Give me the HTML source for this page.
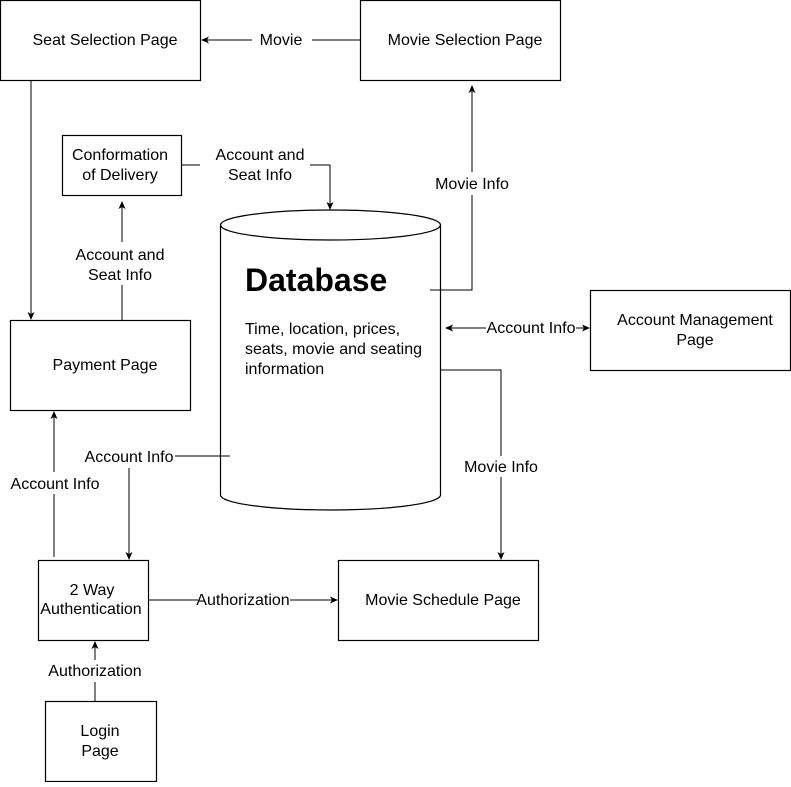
<!DOCTYPE html>
<html><head><meta charset="utf-8"><style>
body{margin:0;background:#fff}
svg text{font-family:"Liberation Sans",Arial,sans-serif;font-size:16px;fill:#000}
</style></head><body>
<svg width="791" height="782" viewBox="0 0 791 782" xmlns="http://www.w3.org/2000/svg">
<defs><marker id="a" markerWidth="8" markerHeight="8" refX="7" refY="4" orient="auto" markerUnits="userSpaceOnUse"><path d="M0,0.5 L8,4 L0,7.5 L2,4 Z" fill="#000"/></marker></defs>
<g fill="#fff" stroke="#000" stroke-width="1.2">
<rect x="0.5" y="0.5" width="200" height="80"/>
<rect x="360.5" y="0.5" width="200" height="80"/>
<rect x="62.5" y="135.5" width="119" height="60"/>
<rect x="10.5" y="320.5" width="180" height="90"/>
<rect x="590.5" y="290.5" width="200" height="80"/>
<rect x="38.5" y="560.5" width="110" height="80"/>
<rect x="338.5" y="560.5" width="200" height="80"/>
<rect x="45.5" y="701.5" width="111" height="80"/>
<path d="M220.5,225 A110,15 0 0 1 440.5,225 L440.5,495 A110,15 0 0 1 220.5,495 Z"/>
<path d="M220.5,225 A110,15 0 0 0 440.5,225" fill="none"/>
</g>
<g stroke="#000" stroke-width="1" fill="none">
<path d="M360,40 H312"/><path d="M252,40 H202" marker-end="url(#a)"/>
<path d="M31,81 V319" marker-end="url(#a)"/>
<path d="M182,165 H200"/><path d="M310,165 H330 V209" marker-end="url(#a)"/>
<path d="M430,290 H472 V195"/><path d="M472,172 V86" marker-end="url(#a)"/>
<path d="M122,320 V285"/><path d="M122,242 V202" marker-end="url(#a)"/>
<path d="M486,328 H446" marker-end="url(#a)"/><path d="M576,328 H589" marker-end="url(#a)"/>
<path d="M440,370 H501 V456"/><path d="M501,477 V559" marker-end="url(#a)"/>
<path d="M230,456 H175"/><path d="M129,468 V559" marker-end="url(#a)"/>
<path d="M54,557 V494"/><path d="M54,472 V412" marker-end="url(#a)"/>
<path d="M148,600 H198"/><path d="M290,600 H337" marker-end="url(#a)"/>
<path d="M95,701 V682"/><path d="M95,660 V642" marker-end="url(#a)"/>
</g>
<g text-anchor="middle">
<text x="105" y="45">Seat Selection Page</text>
<text x="465" y="45">Movie Selection Page</text>
<text x="281" y="45">Movie</text>
<text x="120" y="160">Conformation</text><text x="120" y="180">of Delivery</text>
<text x="260" y="160">Account and</text><text x="260" y="180">Seat Info</text>
<text x="472" y="189">Movie Info</text>
<text x="120" y="260">Account and</text><text x="120" y="280">Seat Info</text>
<text x="105" y="370">Payment Page</text>
<text x="695" y="325">Account Management</text><text x="695" y="345">Page</text>
<text x="531" y="333">Account Info</text>
<text x="501" y="472">Movie Info</text>
<text x="129" y="462">Account Info</text>
<text x="55" y="489">Account Info</text>
<text x="92" y="595">2 Way</text><text x="91" y="614">Authentication</text>
<text x="243" y="605">Authorization</text>
<text x="443" y="605">Movie Schedule Page</text>
<text x="95" y="676">Authorization</text>
<text x="100" y="736">Login</text><text x="100" y="756">Page</text>
</g>
<text x="245" y="291" style="font-size:32px;font-weight:bold">Database</text>
<text x="245" y="334">Time, location, prices,</text>
<text x="245" y="354">seats, movie and seating</text>
<text x="245" y="374">information</text>
</svg>
</body></html>
